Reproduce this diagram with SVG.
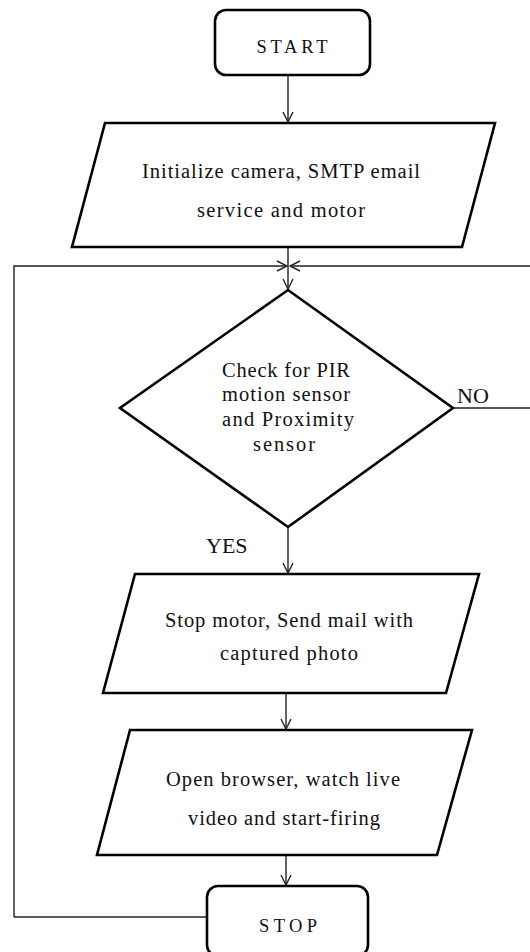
<svg xmlns="http://www.w3.org/2000/svg" width="530" height="952" viewBox="0 0 530 952">
<defs>
<style>
.shape{fill:#fff;stroke:#000;stroke-width:2.6;stroke-linejoin:miter}
.conn{fill:none;stroke:#222;stroke-width:1.4}
.t{font-family:"Liberation Serif","Times New Roman",serif;font-size:20.5px;fill:#111;text-anchor:middle}
.tb{font-family:"Liberation Serif","Times New Roman",serif;font-size:18.5px;fill:#111;text-anchor:middle}
.lbl{font-family:"Liberation Serif","Times New Roman",serif;font-size:22px;fill:#111}
</style>
<marker id="arr" viewBox="0 0 12 12" refX="11" refY="6" markerWidth="12" markerHeight="12" markerUnits="userSpaceOnUse" orient="auto">
<path d="M1,1 L11,6 L1,11" fill="none" stroke="#222" stroke-width="1.4"/>
</marker>
</defs>
<g id="connectors">
<line class="conn" x1="288" y1="75" x2="288" y2="122" marker-end="url(#arr)"/>
<line class="conn" x1="288" y1="247" x2="288" y2="289" marker-end="url(#arr)"/>
<polyline class="conn" points="14,917 14,266 287,266" marker-end="url(#arr)"/>
<polyline class="conn" points="453,408 532,408 532,266 290,266" marker-end="url(#arr)"/>
<line class="conn" x1="288" y1="527" x2="288" y2="573" marker-end="url(#arr)"/>
<line class="conn" x1="286" y1="693" x2="286" y2="729" marker-end="url(#arr)"/>
<line class="conn" x1="286" y1="855" x2="286" y2="885" marker-end="url(#arr)"/>
<line class="conn" x1="14" y1="917" x2="207" y2="917"/>
<text class="lbl" x="457" y="403">NO</text>
<text class="lbl" x="206" y="553">YES</text>
</g>
<g id="start">
<rect class="shape" x="215" y="10" width="155" height="65" rx="11"/>
<text class="tb" x="292" y="53" textLength="71" lengthAdjust="spacing">START</text>
</g>
<g id="init">
<polygon class="shape" points="105,123 495,123 462,247 72,247"/>
<text class="t" x="281" y="178" textLength="278" lengthAdjust="spacing">Initialize camera, SMTP email</text>
<text class="t" x="281" y="217" textLength="168" lengthAdjust="spacing">service and motor</text>
</g>
<g id="check">
<polygon class="shape" points="288,290 453,408 288,527 120,408"/>
<text class="t" x="286" y="377" textLength="128" lengthAdjust="spacing">Check for PIR</text>
<text class="t" x="286" y="401" textLength="128" lengthAdjust="spacing">motion sensor</text>
<text class="t" x="288" y="426" textLength="132" lengthAdjust="spacing">and Proximity</text>
<text class="t" x="284" y="451" textLength="62" lengthAdjust="spacing">sensor</text>
</g>
<g id="stopmotor">
<polygon class="shape" points="135,574 479,574 446,693 103,693"/>
<text class="t" x="289" y="627" textLength="248" lengthAdjust="spacing">Stop motor, Send mail with</text>
<text class="t" x="289" y="660" textLength="138" lengthAdjust="spacing">captured photo</text>
</g>
<g id="browser">
<polygon class="shape" points="130,730 472,730 437,855 97,855"/>
<text class="t" x="283" y="786" textLength="234" lengthAdjust="spacing">Open browser, watch live</text>
<text class="t" x="284" y="825" textLength="192" lengthAdjust="spacing">video and start-firing</text>
</g>
<g id="stop">
<rect class="shape" x="207" y="886" width="161" height="70" rx="11"/>
<text class="tb" x="288" y="932" textLength="58" lengthAdjust="spacing">STOP</text>
</g>
</svg>
